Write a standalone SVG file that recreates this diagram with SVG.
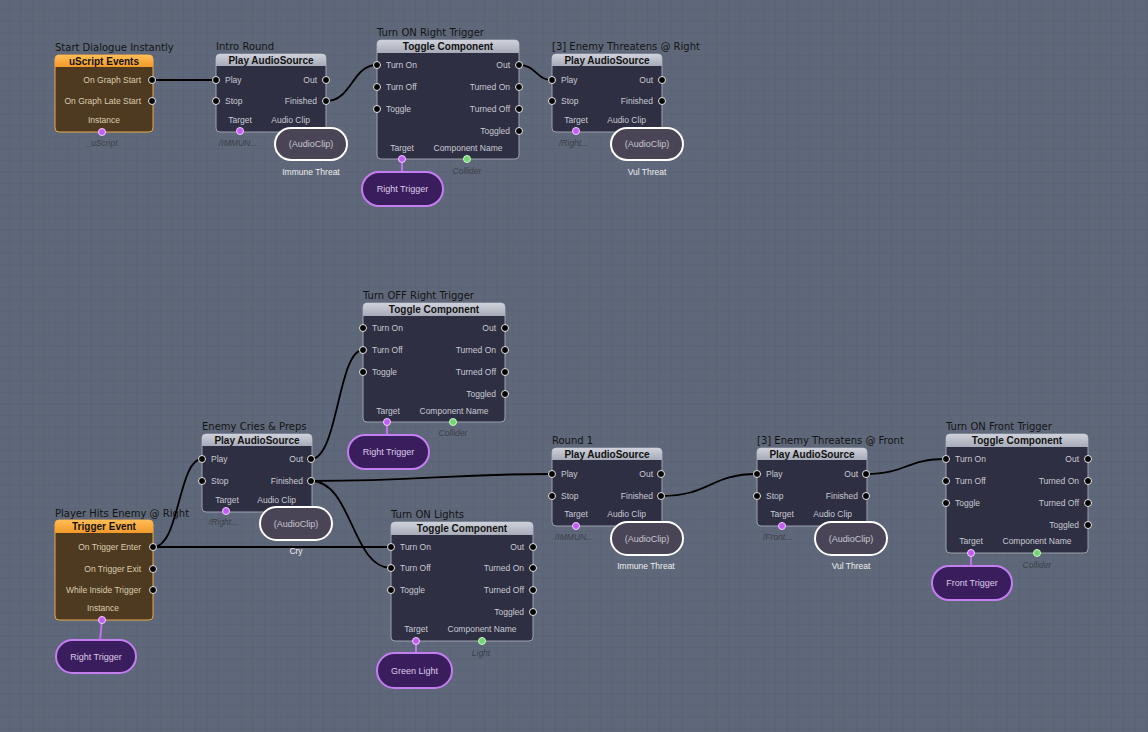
<svg xmlns="http://www.w3.org/2000/svg" width="1148" height="732" viewBox="0 0 1148 732">
<defs>
<pattern id="grid" x="9" y="9" width="11.6" height="11.6" patternUnits="userSpaceOnUse">
<path d="M0,0 H11.6 M0,0 V11.6" stroke="#566070" stroke-width="1" fill="none"/>
</pattern>
<linearGradient id="hdr" x1="0" y1="0" x2="0" y2="1"><stop offset="0" stop-color="#cfd2db"/><stop offset="1" stop-color="#a7abb8"/></linearGradient>
<linearGradient id="ohdr" x1="0" y1="0" x2="0" y2="1"><stop offset="0" stop-color="#ffbd55"/><stop offset="1" stop-color="#f29a2a"/></linearGradient>
</defs>
<style>
text{font-family:"Liberation Sans",Arial,sans-serif}
.title{font-family:"DejaVu Sans",Verdana,sans-serif;font-size:10px;fill:#141414}
.hd{font-size:10px;font-weight:bold;fill:#111;text-anchor:middle}
.row{font-size:8.5px;fill:#c9cad4}
.rowb{font-size:8.5px;fill:#dcccae}
.r{text-anchor:end}
.m{text-anchor:middle}
.it{font-size:8.5px;font-style:italic;fill:#3c404a}
.lbl{font-size:8.5px;fill:#eeeeee;text-anchor:middle}
.body{fill:#2e2f42;stroke:#9da1ae;stroke-width:1}
.bbody{fill:#4d3a20;stroke:#e9a94a;stroke-width:1}
.sk{fill:#000;stroke:#e8e8e8;stroke-width:1}
.pu{fill:#c35cf5;stroke:#f0d0ff;stroke-width:1}
.gr{fill:#6fd86f;stroke:#d0f5d0;stroke-width:1}
.pill{fill:#494556;stroke:#ffffff;stroke-width:2}
.ppill{fill:#3a1d5c;stroke:#c47ef2;stroke-width:2}
.ptxt{font-size:9px;fill:#c8c6d2;text-anchor:middle}
.pptxt{font-size:9px;fill:#dccbe8;text-anchor:middle}
.plink{stroke:#c070f0;stroke-width:2;fill:none}
.wire{stroke:#000;stroke-width:1.8;fill:none}
</style>
<rect x="0" y="0" width="1148" height="732" fill="#5f687a"/>
<rect x="0" y="0" width="1148" height="732" fill="url(#grid)"/>

<g id="connectors">
<path class="wire" d="M152,80 L216,80"/>
<path class="wire" d="M326,101 C352,101 352,65 377,65"/>
<path class="wire" d="M519,65 C536,65 536,80 552,80"/>
<path class="wire" d="M311,459 C338,459 338,350 363,350"/>
<path class="wire" d="M311,481 C430,481 440,474 552,474"/>
<path class="wire" d="M311,481 C352,481 352,568 391,568"/>
<path class="wire" d="M153,547 C180,547 178,459 202,459"/>
<path class="wire" d="M153,547 L391,547"/>
<path class="wire" d="M661,496 C710,496 710,474 757,474"/>
<path class="wire" d="M866,474 C906,474 906,459 946,459"/>
</g>

<!-- uScript Events -->
<g id="node-uscript-events" transform="translate(55,55)">
<text class="title" x="0" y="-4">Start Dialogue Instantly</text>
<rect class="bbody" x="0" y="0" width="98" height="77" rx="4"/>
<path d="M0,12 V4 A4,4 0 0 1 4,0 H94 A4,4 0 0 1 98,4 V12 Z" fill="url(#ohdr)"/>
<text class="hd" x="49" y="9.5">uScript Events</text>
<text class="rowb r" x="86" y="28">On Graph Start</text>
<text class="rowb r" x="86" y="49">On Graph Late Start</text>
<text class="rowb m" x="49" y="68">Instance</text>
<circle class="sk" cx="97" cy="25" r="3.5"/>
<circle class="sk" cx="97" cy="46" r="3.5"/>
<circle class="pu" cx="47" cy="77" r="3.5"/>
<text class="it m" x="47" y="91">_uScript</text>
</g>

<!-- Intro Round -->
<g id="node-intro-round" transform="translate(216,54)">
<text class="title" x="0" y="-4">Intro Round</text>
<rect class="body" x="0" y="0" width="110" height="78" rx="4"/>
<path d="M0,12 V4 A4,4 0 0 1 4,0 H106 A4,4 0 0 1 110,4 V12 Z" fill="url(#hdr)"/>
<text class="hd" x="55" y="9.5">Play AudioSource</text>
<text class="row" x="9" y="29">Play</text>
<text class="row" x="9" y="50">Stop</text>
<text class="row r" x="101" y="29">Out</text>
<text class="row r" x="101" y="50">Finished</text>
<text class="row m" x="24" y="69">Target</text>
<text class="row r" x="94" y="69">Audio Clip</text>
<circle class="sk" cx="0" cy="26" r="3.5"/>
<circle class="sk" cx="0" cy="47" r="3.5"/>
<circle class="sk" cx="110" cy="26" r="3.5"/>
<circle class="sk" cx="110" cy="47" r="3.5"/>
<circle class="pu" cx="24" cy="77" r="3.5"/>
<text class="it" x="3" y="92">/IMMUN...</text>
<rect class="pill" x="59" y="74" width="72" height="32" rx="16"/>
<text class="ptxt" x="95" y="93">(AudioClip)</text>
<text class="lbl" x="95" y="121">Immune Threat</text>
</g>

<!-- Turn ON Right Trigger -->
<g id="node-turn-on-right-trigger" transform="translate(377,40)">
<text class="title" x="0" y="-4">Turn ON Right Trigger</text>
<rect class="body" x="0" y="0" width="142" height="119" rx="4"/>
<path d="M0,13 V4 A4,4 0 0 1 4,0 H138 A4,4 0 0 1 142,4 V13 Z" fill="url(#hdr)"/>
<text class="hd" x="71" y="10">Toggle Component</text>
<text class="row" x="9" y="28">Turn On</text>
<text class="row" x="9" y="50">Turn Off</text>
<text class="row" x="9" y="72">Toggle</text>
<text class="row r" x="133" y="28">Out</text>
<text class="row r" x="133" y="50">Turned On</text>
<text class="row r" x="133" y="72">Turned Off</text>
<text class="row r" x="133" y="94">Toggled</text>
<text class="row m" x="25" y="111">Target</text>
<text class="row m" x="91" y="111">Component Name</text>
<circle class="sk" cx="0" cy="25" r="3.5"/>
<circle class="sk" cx="0" cy="47" r="3.5"/>
<circle class="sk" cx="0" cy="69" r="3.5"/>
<circle class="sk" cx="142" cy="25" r="3.5"/>
<circle class="sk" cx="142" cy="47" r="3.5"/>
<circle class="sk" cx="142" cy="69" r="3.5"/>
<circle class="sk" cx="142" cy="91" r="3.5"/>
<text class="it m" x="90" y="134">Collider</text>
<path class="plink" d="M25,119 V133"/>
<rect class="ppill" x="-15" y="132" width="81" height="34" rx="17"/>
<text class="pptxt" x="25.5" y="152">Right Trigger</text>
<circle class="pu" cx="25" cy="119" r="3.5"/>
<circle class="gr" cx="90" cy="119" r="3.5"/>
</g>

<!-- [3] Enemy Threatens @ Right -->
<g id="node-enemy-threatens-right" transform="translate(552,54)">
<text class="title" x="0" y="-4">[3] Enemy Threatens @ Right</text>
<rect class="body" x="0" y="0" width="110" height="78" rx="4"/>
<path d="M0,12 V4 A4,4 0 0 1 4,0 H106 A4,4 0 0 1 110,4 V12 Z" fill="url(#hdr)"/>
<text class="hd" x="55" y="9.5">Play AudioSource</text>
<text class="row" x="9" y="29">Play</text>
<text class="row" x="9" y="50">Stop</text>
<text class="row r" x="101" y="29">Out</text>
<text class="row r" x="101" y="50">Finished</text>
<text class="row m" x="24" y="69">Target</text>
<text class="row r" x="94" y="69">Audio Clip</text>
<circle class="sk" cx="0" cy="26" r="3.5"/>
<circle class="sk" cx="0" cy="47" r="3.5"/>
<circle class="sk" cx="110" cy="26" r="3.5"/>
<circle class="sk" cx="110" cy="47" r="3.5"/>
<circle class="pu" cx="24" cy="77" r="3.5"/>
<text class="it" x="7" y="92">/Right...</text>
<rect class="pill" x="59" y="74" width="72" height="32" rx="16"/>
<text class="ptxt" x="95" y="93">(AudioClip)</text>
<text class="lbl" x="95" y="121">Vul Threat</text>
</g>

<!-- Turn OFF Right Trigger -->
<g id="node-turn-off-right-trigger" transform="translate(363,303)">
<text class="title" x="0" y="-4">Turn OFF Right Trigger</text>
<rect class="body" x="0" y="0" width="142" height="119" rx="4"/>
<path d="M0,13 V4 A4,4 0 0 1 4,0 H138 A4,4 0 0 1 142,4 V13 Z" fill="url(#hdr)"/>
<text class="hd" x="71" y="10">Toggle Component</text>
<text class="row" x="9" y="28">Turn On</text>
<text class="row" x="9" y="50">Turn Off</text>
<text class="row" x="9" y="72">Toggle</text>
<text class="row r" x="133" y="28">Out</text>
<text class="row r" x="133" y="50">Turned On</text>
<text class="row r" x="133" y="72">Turned Off</text>
<text class="row r" x="133" y="94">Toggled</text>
<text class="row m" x="25" y="111">Target</text>
<text class="row m" x="91" y="111">Component Name</text>
<circle class="sk" cx="0" cy="25" r="3.5"/>
<circle class="sk" cx="0" cy="47" r="3.5"/>
<circle class="sk" cx="0" cy="69" r="3.5"/>
<circle class="sk" cx="142" cy="25" r="3.5"/>
<circle class="sk" cx="142" cy="47" r="3.5"/>
<circle class="sk" cx="142" cy="69" r="3.5"/>
<circle class="sk" cx="142" cy="91" r="3.5"/>
<text class="it m" x="90" y="133">Collider</text>
<path class="plink" d="M24,119 V133"/>
<rect class="ppill" x="-15" y="132" width="81" height="34" rx="17"/>
<text class="pptxt" x="25.5" y="152">Right Trigger</text>
<circle class="pu" cx="24" cy="119" r="3.5"/>
<circle class="gr" cx="90" cy="119" r="3.5"/>
</g>

<!-- Enemy Cries & Preps -->
<g id="node-enemy-cries" transform="translate(202,434)">
<text class="title" x="0" y="-4">Enemy Cries &amp; Preps</text>
<rect class="body" x="0" y="0" width="110" height="78" rx="4"/>
<path d="M0,12 V4 A4,4 0 0 1 4,0 H106 A4,4 0 0 1 110,4 V12 Z" fill="url(#hdr)"/>
<text class="hd" x="55" y="9.5">Play AudioSource</text>
<text class="row" x="9" y="28">Play</text>
<text class="row" x="9" y="50">Stop</text>
<text class="row r" x="101" y="28">Out</text>
<text class="row r" x="101" y="50">Finished</text>
<text class="row m" x="25" y="69">Target</text>
<text class="row r" x="94" y="69">Audio Clip</text>
<circle class="sk" cx="0" cy="25" r="3.5"/>
<circle class="sk" cx="0" cy="47" r="3.5"/>
<circle class="sk" cx="109" cy="25" r="3.5"/>
<circle class="sk" cx="109" cy="47" r="3.5"/>
<circle class="pu" cx="24" cy="77" r="3.5"/>
<text class="it" x="7" y="91">/Right...</text>
<rect class="pill" x="58" y="73" width="72" height="33" rx="16.5"/>
<text class="ptxt" x="94" y="93">(AudioClip)</text>
<text class="lbl" x="94" y="120">Cry</text>
</g>

<!-- Trigger Event -->
<g id="node-trigger-event" transform="translate(55,520)">
<text class="title" x="0" y="-3">Player Hits Enemy @ Right</text>
<rect class="bbody" x="0" y="0" width="98" height="100" rx="4"/>
<path d="M0,13 V4 A4,4 0 0 1 4,0 H94 A4,4 0 0 1 98,4 V13 Z" fill="url(#ohdr)"/>
<text class="hd" x="49" y="10">Trigger Event</text>
<text class="rowb r" x="86" y="30">On Trigger Enter</text>
<text class="rowb r" x="86" y="52">On Trigger Exit</text>
<text class="rowb r" x="86" y="73">While Inside Trigger</text>
<text class="rowb m" x="48" y="91">Instance</text>
<circle class="sk" cx="98" cy="27" r="3.5"/>
<circle class="sk" cx="98" cy="49" r="3.5"/>
<circle class="sk" cx="98" cy="70" r="3.5"/>
<path class="plink" d="M47,100 L45,121"/>
<rect class="ppill" x="1" y="120" width="80" height="33" rx="16.5"/>
<text class="pptxt" x="41" y="140">Right Trigger</text>
<circle class="pu" cx="47" cy="100" r="3.5"/>
</g>

<!-- Turn ON Lights -->
<g id="node-turn-on-lights" transform="translate(391,522)">
<text class="title" x="0" y="-4">Turn ON Lights</text>
<rect class="body" x="0" y="0" width="142" height="119" rx="4"/>
<path d="M0,13 V4 A4,4 0 0 1 4,0 H138 A4,4 0 0 1 142,4 V13 Z" fill="url(#hdr)"/>
<text class="hd" x="71" y="10">Toggle Component</text>
<text class="row" x="9" y="28">Turn On</text>
<text class="row" x="9" y="49">Turn Off</text>
<text class="row" x="9" y="71">Toggle</text>
<text class="row r" x="133" y="28">Out</text>
<text class="row r" x="133" y="49">Turned On</text>
<text class="row r" x="133" y="71">Turned Off</text>
<text class="row r" x="133" y="93">Toggled</text>
<text class="row m" x="25" y="110">Target</text>
<text class="row m" x="91" y="110">Component Name</text>
<circle class="sk" cx="0" cy="25" r="3.5"/>
<circle class="sk" cx="0" cy="46" r="3.5"/>
<circle class="sk" cx="0" cy="68" r="3.5"/>
<circle class="sk" cx="142" cy="25" r="3.5"/>
<circle class="sk" cx="142" cy="46" r="3.5"/>
<circle class="sk" cx="142" cy="68" r="3.5"/>
<circle class="sk" cx="142" cy="90" r="3.5"/>
<text class="it m" x="90" y="134">Light</text>
<path class="plink" d="M25,119 V133"/>
<rect class="ppill" x="-14" y="131" width="75" height="35" rx="17.5"/>
<text class="pptxt" x="23.5" y="152">Green Light</text>
<circle class="pu" cx="25" cy="119" r="3.5"/>
<circle class="gr" cx="91" cy="119" r="3.5"/>
</g>

<!-- Round 1 -->
<g id="node-round-1" transform="translate(552,448)">
<text class="title" x="0" y="-4">Round 1</text>
<rect class="body" x="0" y="0" width="110" height="78" rx="4"/>
<path d="M0,12 V4 A4,4 0 0 1 4,0 H106 A4,4 0 0 1 110,4 V12 Z" fill="url(#hdr)"/>
<text class="hd" x="55" y="9.5">Play AudioSource</text>
<text class="row" x="9" y="29">Play</text>
<text class="row" x="9" y="51">Stop</text>
<text class="row r" x="101" y="29">Out</text>
<text class="row r" x="101" y="51">Finished</text>
<text class="row m" x="24" y="69">Target</text>
<text class="row r" x="94" y="69">Audio Clip</text>
<circle class="sk" cx="0" cy="26" r="3.5"/>
<circle class="sk" cx="0" cy="48" r="3.5"/>
<circle class="sk" cx="109" cy="26" r="3.5"/>
<circle class="sk" cx="109" cy="48" r="3.5"/>
<circle class="pu" cx="24" cy="78" r="3.5"/>
<text class="it" x="3" y="92">/IMMUN...</text>
<rect class="pill" x="59" y="74" width="72" height="33" rx="16.5"/>
<text class="ptxt" x="95" y="94">(AudioClip)</text>
<text class="lbl" x="94" y="121">Immune Threat</text>
</g>

<!-- [3] Enemy Threatens @ Front -->
<g id="node-enemy-threatens-front" transform="translate(757,448)">
<text class="title" x="0" y="-4">[3] Enemy Threatens @ Front</text>
<rect class="body" x="0" y="0" width="110" height="78" rx="4"/>
<path d="M0,12 V4 A4,4 0 0 1 4,0 H106 A4,4 0 0 1 110,4 V12 Z" fill="url(#hdr)"/>
<text class="hd" x="55" y="9.5">Play AudioSource</text>
<text class="row" x="9" y="29">Play</text>
<text class="row" x="9" y="51">Stop</text>
<text class="row r" x="101" y="29">Out</text>
<text class="row r" x="101" y="51">Finished</text>
<text class="row m" x="25" y="69">Target</text>
<text class="row r" x="95" y="69">Audio Clip</text>
<circle class="sk" cx="0" cy="26" r="3.5"/>
<circle class="sk" cx="0" cy="48" r="3.5"/>
<circle class="sk" cx="109" cy="26" r="3.5"/>
<circle class="sk" cx="109" cy="48" r="3.5"/>
<circle class="pu" cx="25" cy="78" r="3.5"/>
<text class="it" x="6" y="92">/Front...</text>
<rect class="pill" x="58" y="74" width="72" height="33" rx="16.5"/>
<text class="ptxt" x="94" y="94">(AudioClip)</text>
<text class="lbl" x="94" y="121">Vul Threat</text>
</g>

<!-- Turn ON Front Trigger -->
<g id="node-turn-on-front-trigger" transform="translate(946,434)">
<text class="title" x="0" y="-4">Turn ON Front Trigger</text>
<rect class="body" x="0" y="0" width="142" height="119" rx="4"/>
<path d="M0,13 V4 A4,4 0 0 1 4,0 H138 A4,4 0 0 1 142,4 V13 Z" fill="url(#hdr)"/>
<text class="hd" x="71" y="10">Toggle Component</text>
<text class="row" x="9" y="28">Turn On</text>
<text class="row" x="9" y="50">Turn Off</text>
<text class="row" x="9" y="72">Toggle</text>
<text class="row r" x="133" y="28">Out</text>
<text class="row r" x="133" y="50">Turned On</text>
<text class="row r" x="133" y="72">Turned Off</text>
<text class="row r" x="133" y="94">Toggled</text>
<text class="row m" x="25" y="110">Target</text>
<text class="row m" x="91" y="110">Component Name</text>
<circle class="sk" cx="0" cy="25" r="3.5"/>
<circle class="sk" cx="0" cy="47" r="3.5"/>
<circle class="sk" cx="0" cy="69" r="3.5"/>
<circle class="sk" cx="142" cy="25" r="3.5"/>
<circle class="sk" cx="142" cy="47" r="3.5"/>
<circle class="sk" cx="142" cy="69" r="3.5"/>
<circle class="sk" cx="142" cy="91" r="3.5"/>
<text class="it m" x="91" y="134">Collider</text>
<path class="plink" d="M25,119 V133"/>
<rect class="ppill" x="-14" y="132" width="80" height="34" rx="17"/>
<text class="pptxt" x="26" y="152">Front Trigger</text>
<circle class="pu" cx="25" cy="119" r="3.5"/>
<circle class="gr" cx="91" cy="119" r="3.5"/>
</g>
</svg>
